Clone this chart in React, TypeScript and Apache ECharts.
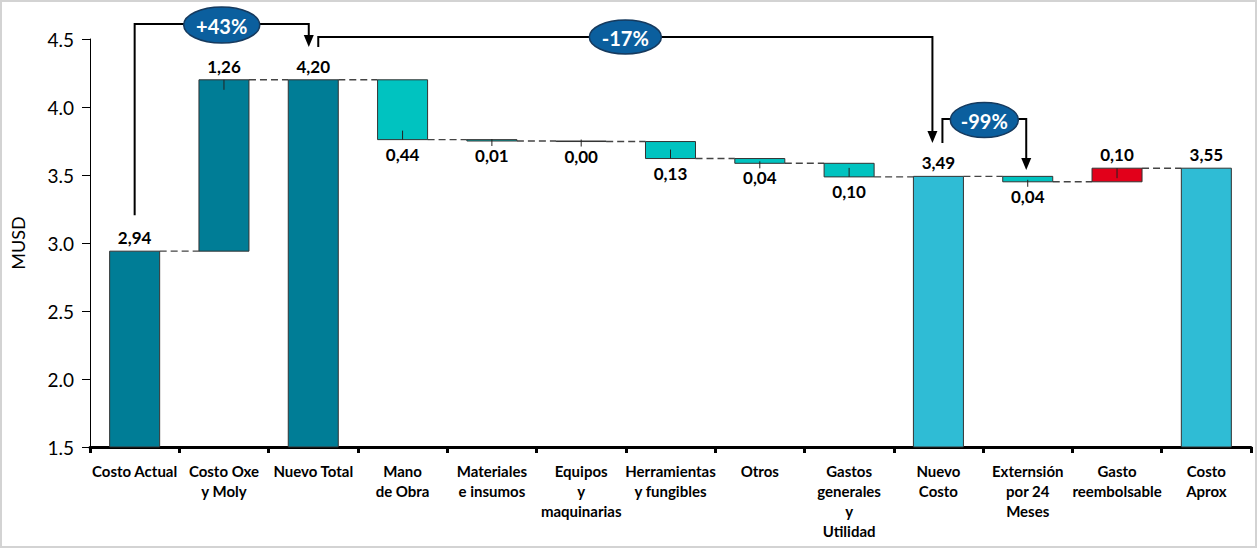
import React, { useEffect, useRef } from 'react';
import * as echarts from 'echarts';

const categories = [
  'Costo Actual',
  'Costo Oxe\ny Moly',
  'Nuevo Total',
  'Mano\nde Obra',
  'Materiales\ne insumos',
  'Equipos\ny\nmaquinarias',
  'Herramientas\ny fungibles',
  'Otros',
  'Gastos\ngenerales\ny\nUtilidad',
  'Nuevo\nCosto',
  'Externsión\npor 24\nMeses',
  'Gasto\nreembolsable',
  'Costo\nAprox',
];
// totals are absolute values, steps are changes (MUSD)
const barValues = [2.94, 1.26, 4.2, -0.44, -0.01, -0.004, -0.125, -0.035, -0.1, 3.49, -0.04, 0.1, 3.55];
const barKinds = ['total', 'step', 'total', 'decrease', 'decrease', 'decrease', 'decrease', 'decrease', 'decrease', 'subtotal', 'decrease', 'increase', 'subtotal'];
const yMin = 1.5;
const yMax = 4.5;
const yInterval = 0.5;
const changeLabels = ['+43%', '-17%', '-99%'];

const FONT = 'Lato, "Open Sans", "DejaVu Sans", sans-serif';
const kindColors: Record<string, string> = {
  total: '#007D96',
  step: '#007D96',
  decrease: '#00C3C0',
  subtotal: '#2FBCD5',
  increase: '#E2001A',
};

function buildRows() {
  let level = 0;
  return barValues.map((v, i) => {
    const kind = barKinds[i];
    if (kind === 'total' || kind === 'subtotal') {
      level = v;
      return [i, yMin, v, v, v, 1, 1];
    }
    const start = level;
    level = start + v;
    return [i, Math.min(start, level), Math.max(start, level), level, Math.abs(v), v > 0 ? 1 : 0, 0];
  });
}

export default function App() {
  const ref = useRef<HTMLDivElement>(null);
  useEffect(() => {
    if (!ref.current) return;
    const chart = echarts.init(ref.current, undefined, { renderer: 'svg' });
    const rows = buildRows();
    const n = rows.length;

    chart.setOption({
      animation: false,
      backgroundColor: '#ffffff',
      grid: { left: 90, right: 6, top: 39, bottom: 101, containLabel: false },
      xAxis: {
        type: 'category',
        data: categories,
        axisLine: { lineStyle: { color: '#000', width: 3 } },
        axisTick: { show: true, length: 6, lineStyle: { color: '#000', width: 3 } },
        axisLabel: {
          interval: 0,
          fontSize: 15,
          fontWeight: 'bold',
          color: '#000',
          lineHeight: 20,
          margin: 14,
          fontFamily: FONT,
        },
        splitLine: { show: false },
      },
      yAxis: {
        type: 'value',
        min: yMin,
        max: yMax,
        interval: yInterval,
        name: 'MUSD',
        nameLocation: 'middle',
        nameGap: 63,
        nameTextStyle: { fontSize: 18, color: '#000', fontFamily: FONT },
        axisLine: { show: true, lineStyle: { color: '#000', width: 1 } },
        axisTick: { show: true, length: 8, lineStyle: { color: '#000', width: 1 } },
        axisLabel: {
          formatter: (v: number) => v.toFixed(1),
          fontSize: 19,
          color: '#000',
          margin: 16,
          fontFamily: FONT,
        },
        splitLine: { show: false },
      },
      series: [
        {
          type: 'custom',
          encode: { x: 0, y: [1, 2] },
          data: rows,
          renderItem: (params: any, api: any) => {
            const i = api.value(0);
            const low = api.value(1);
            const high = api.value(2);
            const end = api.value(3);
            const lab = api.value(4);
            const up = api.value(5) === 1;
            const total = api.value(6) === 1;
            const kind = barKinds[i];
            const catW = api.size([1, 0])[0];
            const bw = catW * 0.56;
            const pLow = api.coord([i, low]);
            const pHigh = api.coord([i, high]);
            const pEnd = api.coord([i, end]);
            const cx = pLow[0];
            const h = pLow[1] - pHigh[1];
            const children: any[] = [];
            if (i < n - 1) {
              const nx = api.coord([i + 1, end])[0];
              children.push({
                type: 'line',
                shape: { x1: cx + bw / 2, y1: pEnd[1], x2: nx - bw / 2, y2: pEnd[1] },
                style: { stroke: '#444', lineWidth: 1.4, lineDash: [7, 4] },
              });
            }
            children.push({
              type: 'rect',
              shape: { x: cx - bw / 2, y: pHigh[1], width: bw, height: h },
              style: { fill: kindColors[kind], stroke: '#333', lineWidth: 1 },
            });
            if (!total) {
              let y1 = pEnd[1];
              let y2 = pEnd[1] + (up ? 10 : -9);
              if (h < 9) {
                y1 = pEnd[1] - 2;
                y2 = pEnd[1] + 5;
              }
              children.push({
                type: 'line',
                shape: { x1: cx, y1, x2: cx, y2 },
                style: { stroke: '#222', lineWidth: 1 },
              });
            }
            const text = Number(lab).toFixed(2).replace('.', ',');
            const labelStyle = {
              text,
              fill: '#000',
              fontSize: 17,
              fontWeight: 'bold',
              fontFamily: FONT,
              align: 'center',
            };
            if (up || total) {
              children.push({
                type: 'text',
                x: cx,
                y: pHigh[1] - 5,
                style: { ...labelStyle, verticalAlign: 'bottom' },
              });
            } else {
              children.push({
                type: 'text',
                x: cx,
                y: pLow[1] + 6,
                style: { ...labelStyle, verticalAlign: 'top' },
              });
            }
            return { type: 'group', children };
          },
        },
      ],
    });

    const px = (i: number, v: number) => chart.convertToPixel({ gridIndex: 0 }, [i, v]) as number[];
    const x0 = px(0, 3)[0];
    const x2 = px(2, 3)[0];
    const x9 = px(9, 3)[0];
    const x10 = px(10, 3)[0];
    const yStart = px(0, barValues[0])[1] - 36;

    const lineStyle = { stroke: '#000', lineWidth: 2, fill: 'none' };
    const arrowHead = (x: number, tip: number) => ({
      type: 'polygon',
      shape: { points: [[x - 5, tip - 12], [x + 5, tip - 12], [x, tip]] },
      style: { fill: '#000' },
    });
    const bubble = (cx: number, cy: number, rx: number, ry: number, text: string) => [
      {
        type: 'ellipse',
        shape: { cx, cy, rx, ry },
        style: { fill: '#0B5F9E', stroke: '#163A5E', lineWidth: 1.5 },
      },
      {
        type: 'text',
        x: cx,
        y: cy + 1,
        style: {
          text,
          fill: '#fff',
          fontSize: 20,
          fontWeight: 'bold',
          fontFamily: FONT,
          align: 'center',
          verticalAlign: 'middle',
        },
      },
    ];

    const a1L = x0;
    const a1R = x2 - 4.5;
    const a2L = x2 + 5;
    const a2R = x9 - 6;
    const a3L = x9 + 4;
    const a3R = x10 - 1.5;

    chart.setOption({
      graphic: [
        {
          type: 'rect',
          shape: { x: 1, y: 1, width: 1255, height: 546 },
          style: { fill: 'none', stroke: '#D3D3D3', lineWidth: 2 },
          silent: true,
        },
        { type: 'polyline', shape: { points: [[a1L, yStart], [a1L, 24], [a1R, 24], [a1R, 37]] }, style: lineStyle },
        arrowHead(a1R, 47),
        ...bubble((a1L + a1R) / 2, 25, 38, 18, changeLabels[0]),
        { type: 'polyline', shape: { points: [[a2L, 47], [a2L, 37], [a2R, 37], [a2R, 133]] }, style: lineStyle },
        arrowHead(a2R, 143),
        ...bubble((a2L + a2R) / 2, 37, 36, 17, changeLabels[1]),
        { type: 'polyline', shape: { points: [[a3L, 143], [a3L, 119], [a3R, 119], [a3R, 160]] }, style: lineStyle },
        arrowHead(a3R, 170),
        ...bubble((a3L + a3R) / 2, 120, 34, 17.5, changeLabels[2]),
      ],
    });

    return () => chart.dispose();
  }, []);

  return (
    <div
      ref={ref}
      style={{ position: 'absolute', left: 0, top: 0, width: 1257, height: 548, background: '#fff' }}
    />
  );
}
